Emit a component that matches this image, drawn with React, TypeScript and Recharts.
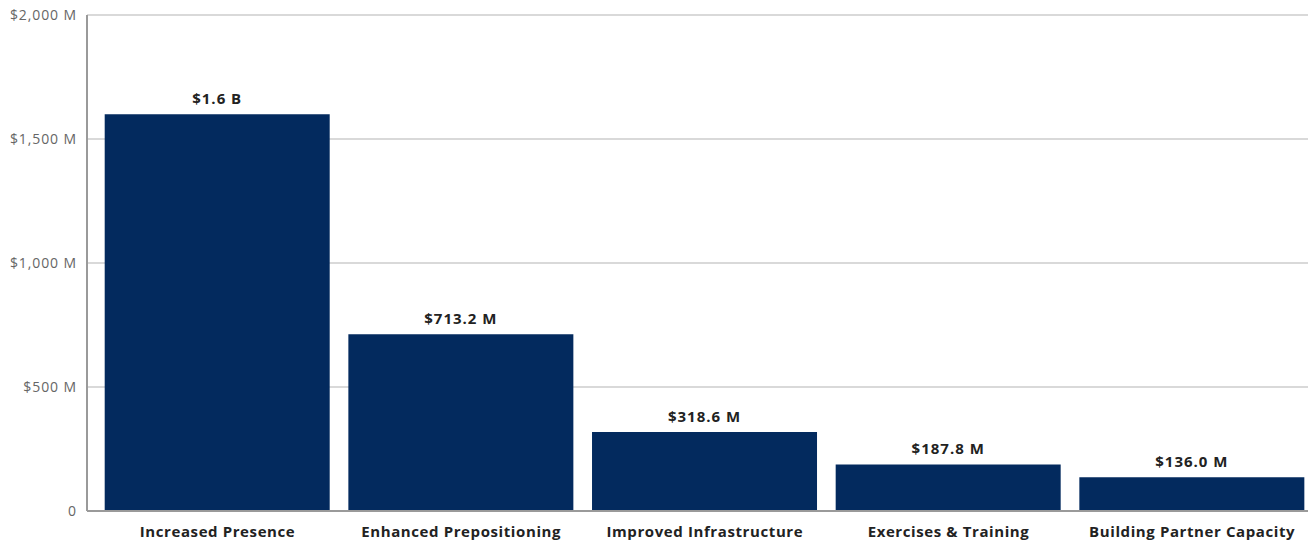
import React from "react";
import { BarChart, Bar, XAxis, YAxis, CartesianGrid, LabelList } from "recharts";

const categories = [
  "Increased Presence",
  "Enhanced Prepositioning",
  "Improved Infrastructure",
  "Exercises & Training",
  "Building Partner Capacity",
];
const values = [1600, 713.2, 318.6, 187.8, 136.0];
const yTicks = [0, 500, 1000, 1500, 2000];

const data = categories.map((c, i) => ({ name: c, value: values[i] }));

const fmtTick = (v: number) => (v === 0 ? "0" : `$${v.toLocaleString("en-US")} M`);
const fmtLabel = (v: number) =>
  v >= 1000 ? `$${(v / 1000).toFixed(1)} B` : `$${v.toFixed(1)} M`;

const FONT = "'Open Sans', 'Noto Sans', sans-serif";

export default function App() {
  return (
    <div
      style={{
        position: "absolute",
        left: 0,
        top: 0,
        width: 1308,
        height: 544,
        overflow: "hidden",
        background: "#fff",
      }}
    >
      <BarChart
        width={1314}
        height={544}
        data={data}
        margin={{ top: 15, right: 0, bottom: 0, left: 0 }}
      >
        <CartesianGrid vertical={false} stroke="#cccccc" strokeWidth={1.5} />
        <XAxis
          dataKey="name"
          padding={{ left: 8.7, right: 0 }}
          tickLine={false}
          axisLine={{ stroke: "#9a9a9a", strokeWidth: 2 }}
          tickMargin={9}
          height={33}
          interval={0}
          tick={{ fill: "#222", fontSize: 15, fontWeight: 700, fontFamily: FONT, letterSpacing: 0.6 }}
        />
        <YAxis
          width={87}
          domain={[0, 2000]}
          ticks={yTicks}
          tickFormatter={fmtTick}
          tickLine={false}
          axisLine={{ stroke: "#9a9a9a", strokeWidth: 2 }}
          tickMargin={4}
          tick={{ fill: "#666", fontSize: 14, fontFamily: FONT, letterSpacing: 0.9 }}
        />
        <Bar dataKey="value" fill="#032a5e" barSize={225} isAnimationActive={false}>
          <LabelList
            dataKey="value"
            position="top"
            offset={10}
            formatter={(v: number) => fmtLabel(v)}
            style={{ fill: "#222", fontSize: 15, fontWeight: 700, fontFamily: FONT, letterSpacing: 1 }}
          />
        </Bar>
      </BarChart>
    </div>
  );
}
